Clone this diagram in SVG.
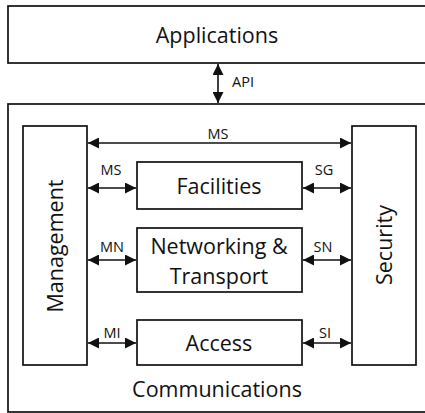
<svg xmlns="http://www.w3.org/2000/svg" width="425" height="413" viewBox="0 0 425 413">
  <style>
    .box { fill: #ffffff; stroke: #111111; stroke-width: 1.7; }
    .big { font-family: "Open Sans", "Noto Sans", sans-serif; font-size: 21.5px; fill: #111111; text-anchor: middle; }
    .small { font-family: "Open Sans", "Noto Sans", sans-serif; font-size: 14.5px; fill: #111111; text-anchor: middle; }
    .link { stroke: #111111; stroke-width: 1.6; fill: none; marker-start: url(#head); marker-end: url(#head); }
  </style>
  <defs>
    <marker id="head" viewBox="0 0 10 10" refX="10" refY="5" markerWidth="11" markerHeight="11" markerUnits="userSpaceOnUse" orient="auto-start-reverse">
      <path d="M0,0 L10,5 L0,10 Z" fill="#111111"/>
    </marker>
  </defs>

  <g id="applications">
    <rect class="box" x="8" y="6" width="430" height="57"/>
    <text class="big" x="217" y="43">Applications</text>
  </g>

  <g id="communications">
    <rect class="box" x="8" y="104" width="430" height="308"/>
    <text class="big" x="217" y="397">Communications</text>
  </g>

  <g id="management">
    <rect class="box" x="23" y="126" width="64" height="239"/>
    <text class="big" transform="translate(63,246) rotate(-90)" x="0" y="0">Management</text>
  </g>

  <g id="security">
    <rect class="box" x="352" y="126" width="64" height="239"/>
    <text class="big" transform="translate(392,245) rotate(-90)" x="0" y="0">Security</text>
  </g>

  <g id="facilities">
    <rect class="box" x="137" y="162" width="165" height="47"/>
    <text class="big" x="219" y="194">Facilities</text>
  </g>

  <g id="networking">
    <rect class="box" x="137" y="228" width="165" height="64"/>
    <text class="big" x="219" y="254">Networking &amp;</text>
    <text class="big" x="219" y="284">Transport</text>
  </g>

  <g id="access">
    <rect class="box" x="137" y="320" width="165" height="45"/>
    <text class="big" x="219" y="351">Access</text>
  </g>

  <g id="connectors">
    <line class="link" x1="218" y1="64" x2="218" y2="103"/>
    <line class="link" x1="88" y1="143" x2="351" y2="143"/>
    <line class="link" x1="88" y1="188" x2="136" y2="188"/>
    <line class="link" x1="303" y1="188" x2="351" y2="188"/>
    <line class="link" x1="88" y1="260" x2="136" y2="260"/>
    <line class="link" x1="303" y1="260" x2="351" y2="260"/>
    <line class="link" x1="88" y1="343" x2="136" y2="343"/>
    <line class="link" x1="303" y1="343" x2="351" y2="343"/>
    <text class="small" x="243" y="87">API</text>
    <text class="small" x="218" y="139">MS</text>
    <text class="small" x="111" y="175">MS</text>
    <text class="small" x="324" y="175">SG</text>
    <text class="small" x="112" y="252">MN</text>
    <text class="small" x="323" y="252">SN</text>
    <text class="small" x="112" y="338">MI</text>
    <text class="small" x="325" y="338">SI</text>
  </g>
</svg>
